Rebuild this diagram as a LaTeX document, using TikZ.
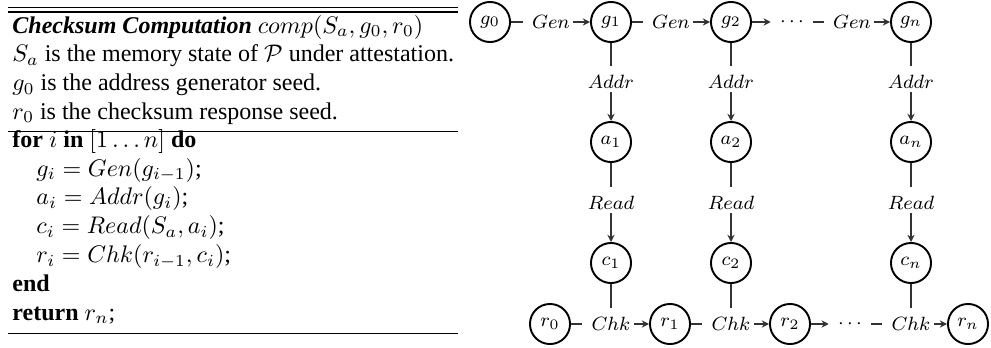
\documentclass[tikz,border=0pt]{standalone}
\usepackage[no-math]{fontspec}
\setmainfont{Liberation Serif}
\usetikzlibrary{arrows.meta}
\begin{document}
\begin{tikzpicture}[x=0.41667pt,y=-0.41667pt,
  st/.style={circle,draw,line width=0.8pt,minimum size=16.7pt,inner sep=0pt,font=\footnotesize},
  lbl/.style={inner sep=1.2pt,font=\footnotesize},
  ln/.style={line width=0.55pt,draw=black!80,shorten >=2.5pt},
  arr/.style={line width=0.55pt,draw=black!80,-{Stealth[length=3pt,width=3pt]}},
  arrs/.style={arr,shorten >=2.5pt},
  alg/.style={anchor=base west,inner sep=0pt,font=\fontsize{10}{12}\selectfont},
  thinrule/.style={line width=0.4pt},
  thickrule/.style={line width=0.8pt}]
\useasboundingbox (0,0) rectangle (991,348);

% ---------- algorithm ----------
\draw[thinrule] (8,7) -- (458,7);
\draw[thickrule] (8,12) -- (458,12);
\node[alg] (t1) at (12,33) {\textbf{\textit{Checksum Computation}} $comp(S_a,g_0,r_0)$};
\node[alg] (t2) at (12,61.8) {$S_a$ is the memory state of $\mathcal{P}$ under attestation.};
\node[alg] (t3) at (12,90.6) {$g_0$ is the address generator seed.};
\node[alg] (t4) at (12,119.4) {$r_0$ is the checksum response seed.};
\draw[thinrule] (8,131) -- (458,131);
\node[alg] (t5) at (12,147.2) {\textbf{for} $i$ \textbf{in} $[1\ldots n]$ \textbf{do}};
\node[alg] (t6) at (36,176) {$g_i = Gen(g_{i-1})$;};
\node[alg] (t7) at (36,204.8) {$a_i = Addr(g_i)$;};
\node[alg] (t8) at (36,233.6) {$c_i = Read(S_a,a_i)$;};
\node[alg] (t9) at (36,262.4) {$r_i = Chk(r_{i-1},c_i)$;};
\node[alg] (t10) at (12,291.2) {\textbf{end}};
\node[alg] (t11) at (12,320) {\textbf{return} $r_n$;};
\draw[thinrule] (8,333) -- (458,333);

% ---------- diagram ----------
% top row
\node[st] (g0) at (490,22) {$g_0$};
\node[lbl] (G1) at (551,22) {$Gen$};
\node[st] (g1) at (611,22) {$g_1$};
\node[lbl] (G2) at (671,22) {$Gen$};
\node[st] (g2) at (731,22) {$g_2$};
\node[lbl] (D1) at (792,22) {$\cdots$};
\node[lbl] (Gn) at (852,22) {$Gen$};
\node[st] (gn) at (911,22) {$g_n$};
% addr labels
\node[lbl] (A1) at (611,82) {$Addr$};
\node[lbl] (A2) at (731,82) {$Addr$};
\node[lbl] (An) at (911,82) {$Addr$};
% a nodes
\node[st] (a1) at (611,142) {$a_1$};
\node[st] (a2) at (731,142) {$a_2$};
\node[st] (an) at (911,142) {$a_n$};
% read labels
\node[lbl] (R1) at (611,203) {$Read$};
\node[lbl] (R2) at (731,203) {$Read$};
\node[lbl] (Rn) at (911,203) {$Read$};
% c nodes
\node[st] (c1) at (611,263) {$c_1$};
\node[st] (c2) at (731,263) {$c_2$};
\node[st] (cn) at (911,263) {$c_n$};
% bottom row
\node[st] (r0) at (550,324) {$r_0$};
\node[lbl] (C1) at (611,324) {$Chk$};
\node[st] (r1) at (670,324) {$r_1$};
\node[lbl] (C2) at (731,324) {$Chk$};
\node[st] (r2) at (790,324) {$r_2$};
\node[lbl] (D2) at (850,324) {$\cdots$};
\node[lbl] (Cn) at (911,324) {$Chk$};
\node[st] (rn) at (968,324) {$r_n$};

% top connectors
\draw[ln] (g0) -- (G1); \draw[arr] (G1) -- (g1);
\draw[ln] (g1) -- (G2); \draw[arr] (G2) -- (g2);
\draw[arrs] (g2) -- (D1);
\draw[ln, shorten <=2.5pt] (D1) -- (Gn); \draw[arr] (Gn) -- (gn);
% verticals
\foreach \g/\A/\a/\R/\c/\C in {g1/A1/a1/R1/c1/C1, g2/A2/a2/R2/c2/C2, gn/An/an/Rn/cn/Cn}{
  \draw[ln] (\g) -- (\A); \draw[arr] (\A) -- (\a);
  \draw[ln] (\a) -- (\R); \draw[arr] (\R) -- (\c);
  \draw[ln] (\c) -- (\C);
}
% bottom connectors
\draw[ln] (r0) -- (C1); \draw[arr] (C1) -- (r1);
\draw[ln] (r1) -- (C2); \draw[arr] (C2) -- (r2);
\draw[arrs] (r2) -- (D2);
\draw[ln, shorten <=2.5pt] (D2) -- (Cn); \draw[arr] (Cn) -- (rn);
\end{tikzpicture}
\end{document}
